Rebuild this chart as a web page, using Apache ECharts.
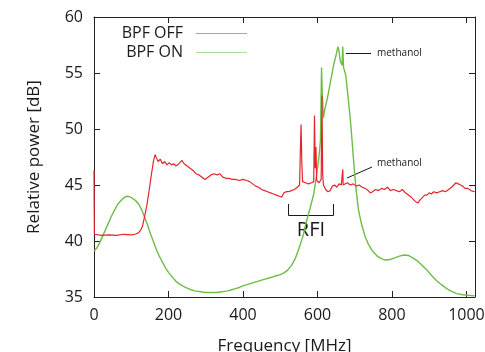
<!DOCTYPE html>
<html>
<head>
<meta charset="utf-8">
<script src="https://cdn.jsdelivr.net/npm/echarts@6/dist/echarts.min.js"></script>
<style>html,body{margin:0;padding:0;background:#fff}#c{width:485px;height:352px}</style>
</head>
<body>
<div id="c"></div>
<script>
// Frequency [MHz] vs Relative power [dB]
const xTicks = [0, 200, 400, 600, 800, 1000];
const yTicks = [35, 40, 45, 50, 55, 60];
const seriesNames = ['BPF OFF', 'BPF ON'];

const bpfOff = [
 [0,46.3],[1,40.6],[20,40.5],[40,40.55],[60,40.5],[80,40.6],[100,40.55],[110,40.6],[118,40.7],[124,40.9],[130,41.3],[136,42.2],[142,43.2],[148,44.5],[154,45.9],[160,47.2],[164,47.7],[168,47.4],[172,47.1],[178,47.3],[184,46.9],[190,47.1],[196,46.8],[202,47.0],[208,46.8],[214,46.9],[220,46.7],[228,46.9],[236,47.2],[242,46.9],[250,46.7],[258,46.5],[266,46.3],[274,46.0],[282,45.9],[290,45.7],[298,45.5],[306,45.7],[314,45.9],[322,46.0],[330,45.9],[338,46.0],[346,45.7],[354,45.6],[362,45.6],[370,45.5],[380,45.5],[390,45.4],[400,45.5],[410,45.4],[418,45.3],[426,45.1],[434,44.9],[442,44.8],[450,44.6],[458,44.5],[466,44.4],[474,44.3],[482,44.2],[490,44.1],[498,44.0],[504,43.9],[510,44.3],[516,44.4],[522,44.4],[530,44.5],[538,44.6],[546,44.8],[552,45.0],[554,48.0],[556,50.4],[558,47.0],[560,45.3],[568,45.2],[576,45.1],[584,45.2],[590,45.3],[592,51.2],[594,46.5],[596,48.4],[598,45.4],[604,45.2],[608,45.3],[610,45.5],[612,53.0],[614,46.0],[616,45.0],[622,44.6],[628,44.4],[634,44.5],[640,44.9],[646,45.0],[652,44.8],[658,45.1],[664,45.0],[667,44.9],[668,46.4],[669,45.0],[674,45.1],[680,45.2],[688,45.0],[696,45.1],[704,44.9],[712,45.0],[720,44.8],[728,44.7],[736,44.5],[742,44.3],[748,44.4],[756,44.6],[764,44.5],[772,44.7],[780,44.6],[788,44.8],[796,44.5],[804,44.6],[812,44.5],[820,44.4],[828,44.6],[836,44.3],[844,44.1],[852,43.9],[858,43.7],[864,43.5],[870,43.4],[876,43.7],[882,43.9],[888,44.1],[894,44.1],[900,44.3],[906,44.2],[912,44.4],[920,44.3],[928,44.4],[936,44.5],[944,44.4],[952,44.6],[960,44.8],[966,45.0],[972,45.2],[978,45.1],[984,45.0],[990,44.9],[996,44.7],[1004,44.7],[1012,44.5],[1022,44.4]
];

const bpfOn = [
 [0,39.1],[8,39.4],[16,39.9],[24,40.5],[32,41.1],[40,41.7],[48,42.3],[56,42.8],[64,43.3],[72,43.6],[80,43.85],[88,44.0],[96,43.95],[104,43.8],[112,43.6],[120,43.3],[128,42.8],[136,42.1],[144,41.4],[152,40.6],[160,39.9],[168,39.2],[176,38.6],[184,38.1],[192,37.6],[200,37.2],[210,36.8],[220,36.4],[230,36.15],[240,35.95],[250,35.8],[260,35.65],[270,35.55],[280,35.5],[290,35.45],[300,35.4],[310,35.4],[320,35.4],[330,35.4],[340,35.45],[350,35.5],[360,35.55],[370,35.65],[380,35.75],[390,35.85],[400,36.0],[410,36.1],[420,36.2],[430,36.3],[440,36.4],[450,36.5],[460,36.6],[470,36.7],[480,36.8],[490,36.9],[500,37.0],[510,37.15],[520,37.4],[530,37.8],[540,38.4],[550,39.3],[560,40.3],[570,41.7],[580,42.9],[590,44.2],[598,46.0],[604,47.5],[608,49.0],[611,55.5],[613,53.0],[616,51.0],[620,51.8],[627,52.8],[636,54.4],[644,55.8],[650,56.6],[655,57.35],[658,56.9],[661,56.1],[666,55.7],[668,57.35],[670,55.5],[676,54.8],[683,52.6],[690,50.2],[697,47.2],[703,44.8],[710,42.8],[719,41.4],[728,40.4],[737,39.7],[748,39.1],[759,38.7],[770,38.45],[782,38.3],[795,38.35],[808,38.5],[820,38.65],[832,38.75],[845,38.7],[856,38.5],[867,38.25],[880,37.85],[894,37.4],[907,36.9],[920,36.45],[933,36.1],[947,35.75],[960,35.5],[974,35.3],[990,35.2],[1005,35.15],[1022,35.1]
];

const RED = '#e3262b';
const GREEN = '#6dbd45';
const FONT = 'Open Sans';
const INK = '#1a1a1a';

const chart = echarts.init(document.getElementById('c'), null, {renderer: 'canvas'});

function tick() { return {show: true, inside: true, length: 6, lineStyle: {color: '#222', width: 1}}; }
function axLine() { return {show: true, onZero: false, lineStyle: {color: '#222', width: 1}}; }

chart.setOption({
  animation: false,
  backgroundColor: '#fff',
  grid: {left: 94, top: 17, width: 381, height: 280, containLabel: false, outerBoundsMode: 'none', show: false},
  xAxis: [{
    type: 'value', min: 0, max: 1023, interval: 200,
    name: 'Frequency [MHz]', nameLocation: 'middle', nameGap: 41,
    nameTextStyle: {fontFamily: FONT, fontSize: 17, color: INK},
    axisLine: axLine(), axisTick: tick(), splitLine: {show: false},
    axisLabel: {show: true, margin: 10, fontFamily: FONT, fontSize: 16, color: INK, showMaxLabel: false,
      formatter: v => xTicks.indexOf(v) >= 0 ? String(v) : ''}
  }, {
    type: 'value', position: 'top', min: 0, max: 1023, interval: 200,
    axisLine: axLine(), axisTick: tick(), splitLine: {show: false}, axisLabel: {show: false}
  }],
  yAxis: [{
    type: 'value', min: 35, max: 60, interval: 5,
    name: 'Relative power [dB]', nameLocation: 'middle', nameGap: 51, nameRotate: 90,
    nameTextStyle: {fontFamily: FONT, fontSize: 17, color: INK},
    axisLine: axLine(), axisTick: tick(), splitLine: {show: false},
    axisLabel: {show: true, margin: 11, fontFamily: FONT, fontSize: 16, color: INK,
      formatter: v => yTicks.indexOf(v) >= 0 ? String(v) : ''}
  }, {
    type: 'value', position: 'right', min: 35, max: 60, interval: 5,
    axisLine: axLine(), axisTick: tick(), splitLine: {show: false}, axisLabel: {show: false}
  }],
  series: [{
    name: seriesNames[0], type: 'line', data: bpfOff, showSymbol: false, symbol: 'none',
    lineStyle: {color: RED, width: 1.2}, itemStyle: {color: RED}, z: 3
  }, {
    name: seriesNames[1], type: 'line', data: bpfOn, showSymbol: false, symbol: 'none',
    lineStyle: {color: GREEN, width: 1.4}, itemStyle: {color: GREEN}, z: 2
  }],
  graphic: [
    {type: 'text', x: 183, y: 33, style: {text: seriesNames[0], fontFamily: FONT, fontSize: 16, fill: INK, align: 'right', verticalAlign: 'middle'}},
    {type: 'line', shape: {x1: 196, y1: 33.5, x2: 247, y2: 33.5}, style: {stroke: RED, lineWidth: 1, opacity: 0.55}},
    {type: 'text', x: 183, y: 52, style: {text: seriesNames[1], fontFamily: FONT, fontSize: 16, fill: INK, align: 'right', verticalAlign: 'middle'}},
    {type: 'line', shape: {x1: 196, y1: 52.5, x2: 247, y2: 52.5}, style: {stroke: GREEN, lineWidth: 1, opacity: 0.55}},
    // methanol annotations
    {type: 'line', shape: {x1: 346, y1: 53.5, x2: 371, y2: 53.5}, style: {stroke: INK, lineWidth: 1}},
    {type: 'text', x: 377, y: 53, style: {text: 'methanol', fontFamily: FONT, fontSize: 10, fill: INK, align: 'left', verticalAlign: 'middle'}},
    {type: 'line', shape: {x1: 347, y1: 178, x2: 372, y2: 167}, style: {stroke: INK, lineWidth: 1}},
    {type: 'text', x: 377, y: 163, style: {text: 'methanol', fontFamily: FONT, fontSize: 10, fill: INK, align: 'left', verticalAlign: 'middle'}},
    // RFI bracket
    {type: 'polyline', shape: {points: [[288.5, 204], [288.5, 215.5], [333.5, 215.5], [333.5, 204]]}, style: {stroke: INK, lineWidth: 1, fill: null}},
    {type: 'text', x: 311, y: 230, style: {text: 'RFI', fontFamily: FONT, fontSize: 20, fill: INK, align: 'center', verticalAlign: 'middle'}}
  ]
});
</script>
</body>
</html>
